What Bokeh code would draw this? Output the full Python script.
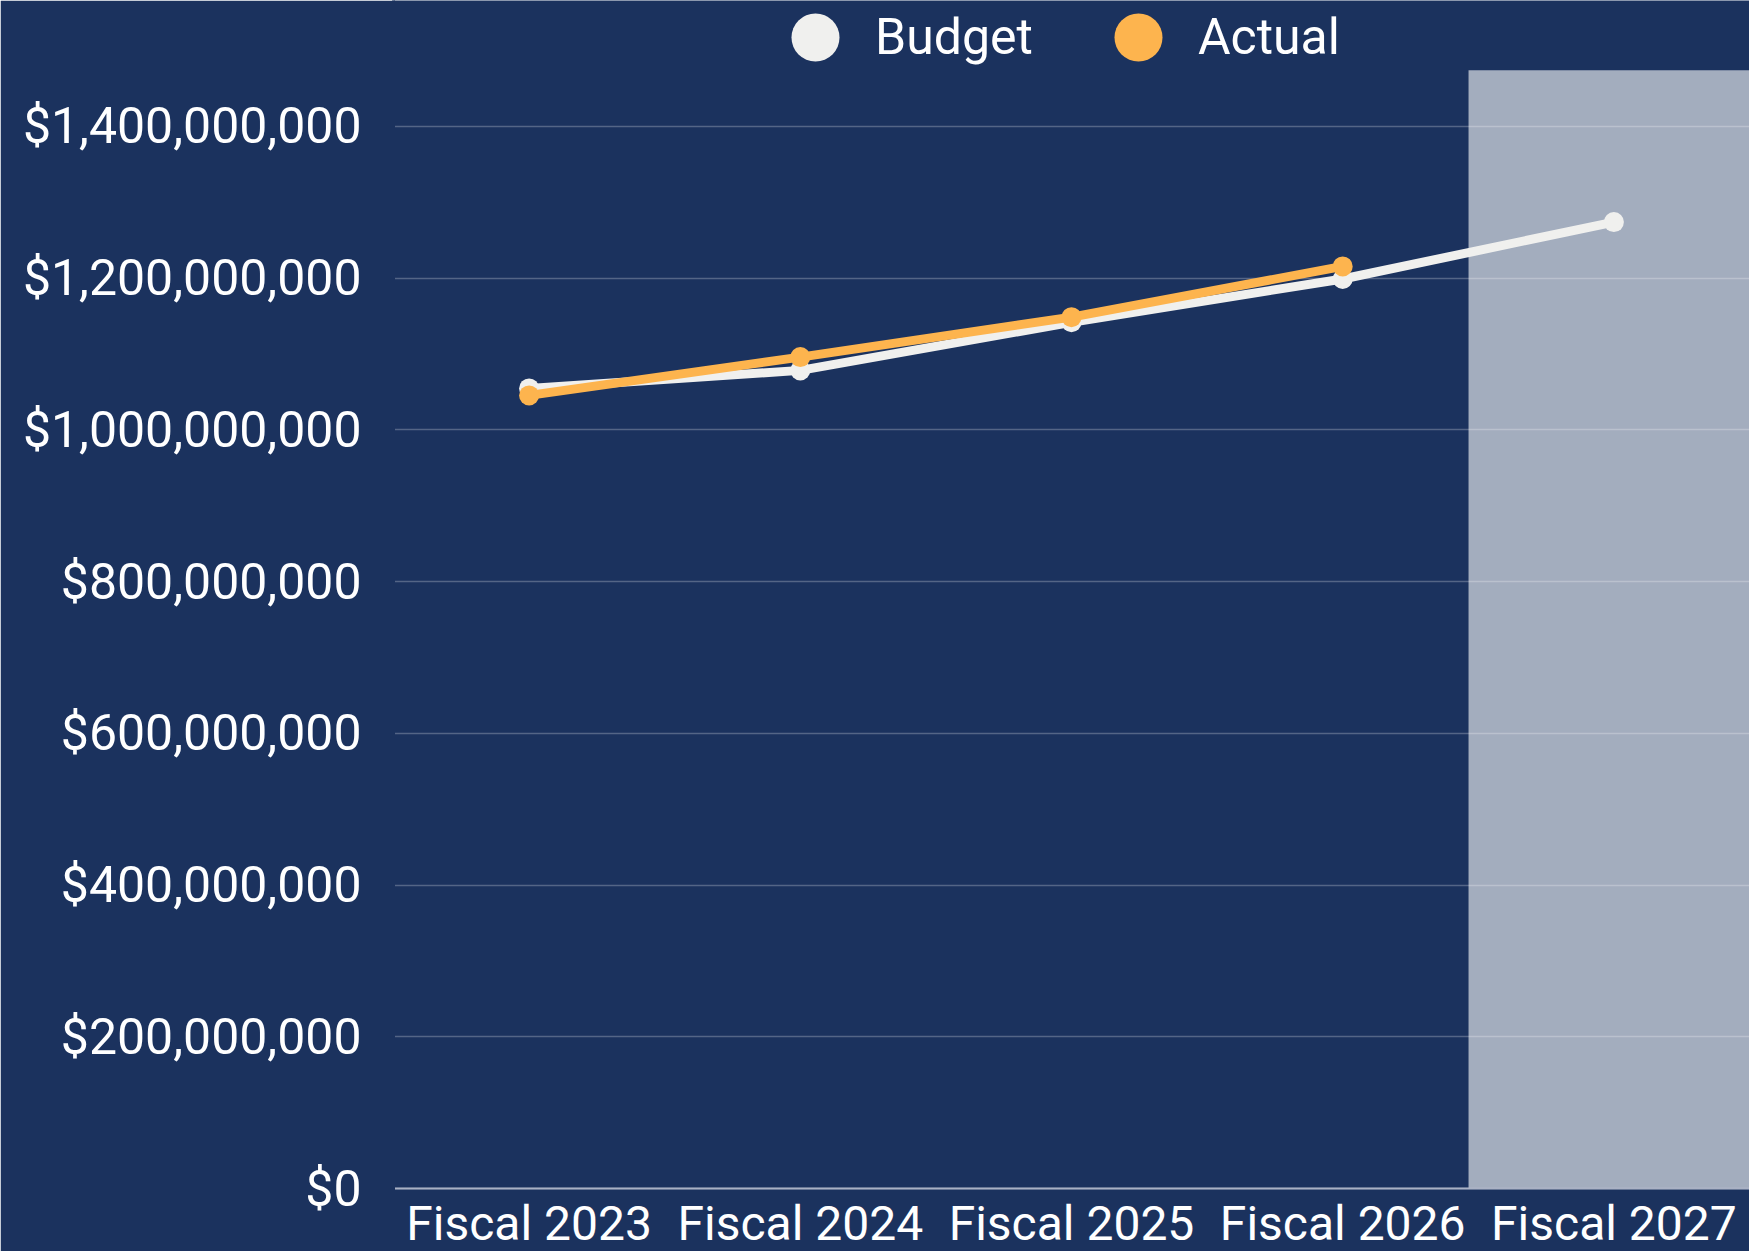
from bokeh.plotting import figure
from bokeh.models import (FactorRange, Range1d, NumeralTickFormatter, BoxAnnotation,
                          Legend, LegendItem, ColumnDataSource)
from bokeh.embed import file_html
from bokeh.resources import INLINE

categories = ["Fiscal 2023", "Fiscal 2024", "Fiscal 2025", "Fiscal 2026", "Fiscal 2027"]
budget = [1.0547e9, 1.0785e9, 1.142e9, 1.199e9, 1.274e9]
actual_categories = ["Fiscal 2023", "Fiscal 2024", "Fiscal 2025", "Fiscal 2026"]
actual = [1.0455e9, 1.096e9, 1.1487e9, 1.2156e9]
y_ticks = [0, 200e6, 400e6, 600e6, 800e6, 1000e6, 1200e6, 1400e6]
forecast_start = 3.964  # synthetic x coordinate where the projection shading starts
shade_top = 1.474e9
y_min, y_max = -0.8305e8, 1.5661e9

BG = "#1b325e"
WHITE = "#f0f0ee"
ORANGE = "#fdb44e"
FONT = "Roboto"

p = figure(width=1749, height=1251, x_range=FactorRange(*categories, range_padding=0),
           y_range=Range1d(y_min, y_max), output_backend="svg", toolbar_location=None,
           min_border_left=393, min_border_right=0, min_border_top=0, min_border_bottom=0)
p.background_fill_color = BG
p.border_fill_color = BG
p.outline_line_color = None

shade = BoxAnnotation(left=forecast_start, bottom=0, top=shade_top, fill_color="white",
                      fill_alpha=0.6, line_color=None, level="underlay")
p.add_layout(shade)

p.xgrid.grid_line_color = None
p.ygrid.grid_line_color = "white"
p.ygrid.grid_line_alpha = 0.25
p.ygrid.grid_line_width = 1.5

p.yaxis.ticker = y_ticks
p.yaxis.formatter = NumeralTickFormatter(format="$0,0")
p.yaxis.axis_line_color = BG
p.yaxis.axis_line_width = 3
p.yaxis.major_tick_line_color = None
p.yaxis.minor_tick_line_color = None
p.yaxis.major_tick_out = 0
p.yaxis.major_tick_in = 0
p.yaxis.major_label_standoff = 32
p.yaxis.major_label_text_font = FONT
p.yaxis.major_label_text_font_size = "50px"
p.yaxis.major_label_text_color = "white"

p.xaxis.fixed_location = 0
p.xaxis.axis_line_color = "#a9b1c4"
p.xaxis.axis_line_width = 2
p.xaxis.major_tick_line_color = None
p.xaxis.major_tick_out = 0
p.xaxis.major_tick_in = 0
p.xaxis.major_label_standoff = 6
p.xaxis.major_label_text_font = FONT
p.xaxis.major_label_text_font_size = "48px"
p.xaxis.major_label_text_color = "white"

bsrc = ColumnDataSource(dict(x=categories, y=budget))
asrc = ColumnDataSource(dict(x=actual_categories, y=actual))
p.line("x", "y", source=bsrc, line_color=WHITE, line_width=9)
p.scatter("x", "y", source=bsrc, size=20, fill_color=WHITE, line_color=None)
p.line("x", "y", source=asrc, line_color=ORANGE, line_width=9)
p.scatter("x", "y", source=asrc, size=20, fill_color=ORANGE, line_color=None)

# legend swatches (markers without data; legend draws them at 0.4 x glyph box)
nan = float("nan")
lb = p.scatter(x=[categories[0]], y=[nan], size=48, fill_color=WHITE, line_color=None)
la = p.scatter(x=[categories[0]], y=[nan], size=48, fill_color=ORANGE, line_color=None)
legend = Legend(items=[LegendItem(label="Budget", renderers=[lb]),
                       LegendItem(label="Actual", renderers=[la])],
                orientation="horizontal", location=(362, 1154),
                glyph_width=120, glyph_height=120, label_height=120,
                label_standoff=0, spacing=45, padding=0, margin=0,
                background_fill_alpha=0, border_line_color=None,
                label_text_font=FONT, label_text_font_size="50px",
                label_text_color="white")
p.add_layout(legend)

open("out.html", "w").write(file_html(p, INLINE))
